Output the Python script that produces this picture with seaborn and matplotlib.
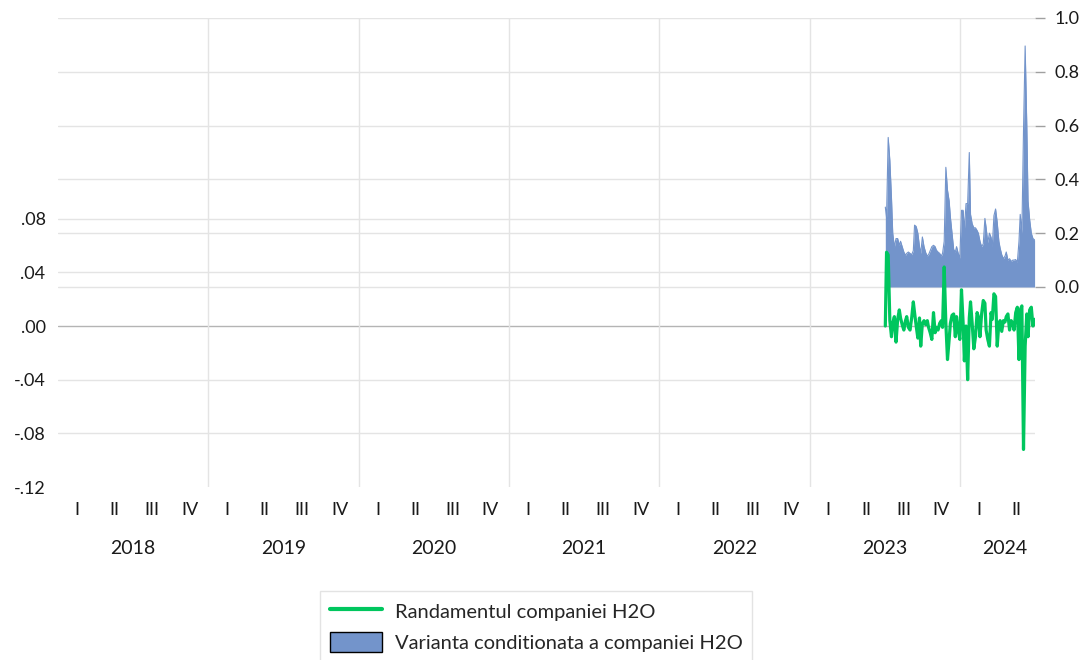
import numpy as np
import pandas as pd
import seaborn as sns
import matplotlib.pyplot as plt
import matplotlib.transforms as mtrans
from matplotlib.lines import Line2D
from matplotlib.patches import Patch

# daily series (Jul 2023 - Jun 2024)
START, END = "2023-07-04", "2024-07-01"

RANDAMENT = [
    0.000, 0.055, 0.053, 0.004, -0.008, 0.002, 0.007, -0.012, 0.005, 0.012,
    0.006, 0.001, -0.003, 0.004, 0.007, -0.001, -0.003, 0.006, 0.018, 0.010,
    0.000, -0.009, 0.006, -0.015, 0.002, 0.004, 0.001, 0.004, -0.001, -0.005,
    -0.010, 0.010, -0.005, -0.001, -0.003, 0.002, 0.004, -0.001, 0.044, 0.002,
    -0.025, -0.010, 0.002, 0.008, 0.009, -0.008, 0.007, -0.003, -0.010, 0.027,
    0.002, -0.026, 0.000, -0.040, 0.006, 0.018, 0.002, -0.017, -0.008, 0.010,
    0.007, -0.008, 0.009, 0.019, 0.017, -0.003, -0.010, -0.015, 0.010, 0.005,
    0.024, 0.022, -0.015, 0.002, 0.004, -0.004, 0.004, 0.003, 0.007, 0.009,
    -0.003, 0.004, 0.002, -0.003, 0.010, 0.014, -0.025, 0.012, 0.015, -0.092,
    -0.015, 0.009, -0.008, 0.012, 0.014, 0.000, 0.005,
]

VARIANTA = [
    0.297, 0.260, 0.556, 0.470, 0.330, 0.200, 0.149, 0.180, 0.180, 0.155,
    0.170, 0.150, 0.130, 0.118, 0.125, 0.130, 0.125, 0.120, 0.135, 0.230,
    0.225, 0.200, 0.150, 0.125, 0.186, 0.150, 0.128, 0.115, 0.120, 0.135,
    0.150, 0.155, 0.150, 0.137, 0.130, 0.125, 0.115, 0.125, 0.170, 0.445,
    0.360, 0.320, 0.260, 0.200, 0.140, 0.130, 0.150, 0.125, 0.107, 0.285,
    0.285, 0.210, 0.310, 0.310, 0.500, 0.270, 0.235, 0.220, 0.220, 0.210,
    0.200, 0.170, 0.150, 0.160, 0.255, 0.220, 0.165, 0.200, 0.185, 0.150,
    0.265, 0.290, 0.240, 0.170, 0.145, 0.120, 0.105, 0.115, 0.130, 0.100,
    0.105, 0.095, 0.100, 0.100, 0.102, 0.092, 0.170, 0.270, 0.200, 0.580,
    0.896, 0.600, 0.320, 0.250, 0.200, 0.180, 0.175,
]

YEARS = [2018, 2019, 2020, 2021, 2022, 2023, 2024]
QUARTERS = ["I", "II", "III", "IV"]
LEFT_TICKS = [-0.12, -0.08, -0.04, 0.00, 0.04, 0.08]
LEFT_LABELS = ["-.12", "-.08", "-.04", ".00", ".04", ".08"]
RIGHT_TICKS = [0.0, 0.2, 0.4, 0.6, 0.8, 1.0]
RIGHT_LABELS = ["0.0", "0.2", "0.4", "0.6", "0.8", "1.0"]

GREEN = "#00c65e"
BLUE = "#7394cb"
GRID = "#e4e4e4"

dates = pd.date_range(START, END, periods=len(RANDAMENT))
frac = dates.year + (dates.dayofyear - 1) / np.where(dates.is_leap_year, 366, 365)
df = pd.DataFrame({"t": frac, "randament": RANDAMENT, "varianta": VARIANTA})

sns.set_theme(style="white")
plt.rcParams["font.family"] = ["Lato", "DejaVu Sans"]

fig = plt.figure(figsize=(10.91, 6.6), dpi=100)
ax = fig.add_axes([58 / 1091, 1 - 487 / 660, 977 / 1091, 469 / 660])
ax2 = ax.twinx()
ax.set_zorder(ax2.get_zorder() + 1)
ax.patch.set_visible(False)

# gridlines live on the back axes so the blue area covers them
blend = mtrans.blended_transform_factory(ax2.transAxes, ax.transData)
for v in RIGHT_TICKS:
    ax2.axhline(v, color=GRID, lw=1, zorder=0)
for v in LEFT_TICKS[1:]:
    ax2.plot([0, 1], [v, v], transform=blend, lw=1, zorder=0,
             color="#b4b4b4" if v == 0 else GRID)
for y in YEARS[1:]:
    ax2.axvline(y, color=GRID, lw=1, zorder=0)

ax2.fill_between(df["t"], 0, df["varianta"], color=BLUE, lw=0, zorder=2)
sns.lineplot(data=df, x="t", y="varianta", ax=ax2, color=BLUE, lw=0.8, zorder=3)
sns.lineplot(data=df, x="t", y="randament", ax=ax, color=GREEN, lw=2.3)

ax.set_xlim(2018, 2024.5)
ax.set_ylim(-0.12, 0.2296)
ax2.set_ylim(-0.7435, 1.0)

for a in (ax, ax2):
    a.set_xlabel("")
    a.set_ylabel("")
    for s in a.spines.values():
        s.set_visible(False)

ax.set_yticks(LEFT_TICKS, LEFT_LABELS)
ax.tick_params(axis="y", length=0, pad=9, labelsize=13, labelcolor="#1a1a1a")
ax2.set_yticks(RIGHT_TICKS, RIGHT_LABELS)
ax2.tick_params(axis="y", length=7, width=1, color="#a0a0a0", pad=7,
                labelsize=13, labelcolor="#1a1a1a")

qpos, qlab = [], []
for y in YEARS:
    for i, q in enumerate(QUARTERS):
        c = y + (i + 0.5) / 4
        if c < 2024.5:
            qpos.append(c)
            qlab.append(q)
ax.set_xticks(qpos, qlab)
ax.tick_params(axis="x", length=0, pad=11, labelsize=13, labelcolor="#1a1a1a")

ytrans = mtrans.blended_transform_factory(ax.transData, ax.transAxes)
for y in YEARS:
    xc = y + 0.5 if y < 2024 else 2024.3
    ax.text(xc, -61 / 469, str(y), transform=ytrans, ha="center", va="center",
            fontsize=14, color="#1a1a1a")

handles = [Line2D([], [], color=GREEN, lw=3),
           Patch(facecolor=BLUE, edgecolor="black", lw=1)]
labels = ["Randamentul companiei H2O", "Varianta conditionata a companiei H2O"]
leg = fig.legend(handles, labels, loc="upper left",
                 bbox_to_anchor=(320 / 1091, 1 - 591 / 660), fontsize=14.5,
                 frameon=True, fancybox=False, edgecolor="#dcdcdc",
                 handlelength=2.6, handleheight=1.15, handletextpad=0.6,
                 borderpad=0.5, labelspacing=0.55, borderaxespad=0)
leg.get_frame().set_linewidth(1)

fig.savefig("out.png", dpi=100)
